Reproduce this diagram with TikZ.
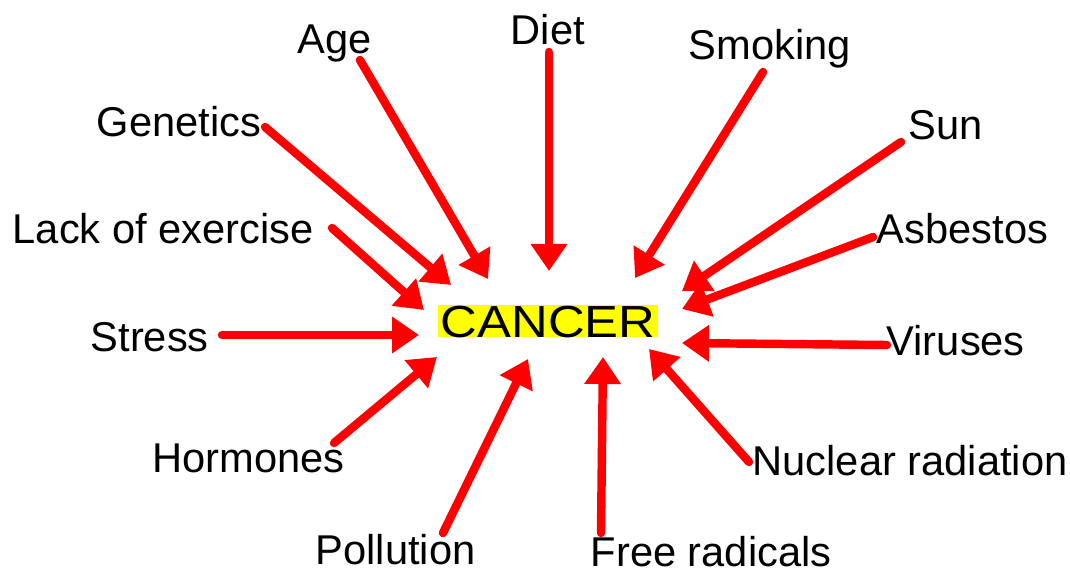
\documentclass[tikz,border=0pt]{standalone}
\usepackage{fontspec}
\setmainfont{Liberation Sans}
\newfontfamily\cancerfont[FakeStretch=1.13]{Liberation Sans}
\usetikzlibrary{positioning,arrows.meta}
\definecolor{causered}{RGB}{255,0,0}
\definecolor{markyellow}{RGB}{255,255,0}

\tikzset{
  factor/.style={anchor=base west,inner sep=0pt,font=\fontsize{11.85}{14}\selectfont},
  cause/.style={draw=causered,line width=2.4pt,line cap=round,
                -{Triangle[length=0.27cm,width=0.35cm]}},
}

\begin{document}
\begin{tikzpicture}
    \useasboundingbox (0,0) rectangle (10.70,5.71);
    % centre
    \node[fill=markyellow,anchor=base west,inner xsep=0.03cm,inner ysep=0pt,
          text height=9.2pt,text depth=0pt,
          font=\cancerfont\fontsize{12.8}{14}\selectfont] (cancer) at (4.37,2.34) {CANCER};
    % causes
    \foreach \n/\x/\y/\t in {age/2.97/5.18/Age,diet/5.10/5.26/Diet,
                             smoking/6.88/5.11/Smoking,genetics/0.96/4.34/Genetics,
                             sun/9.08/4.31/Sun,lack/0.12/3.28/Lack of exercise,
                             asbestos/8.76/3.28/Asbestos,stress/0.90/2.19/Stress,
                             viruses/8.86/2.16/Viruses,hormones/1.52/0.98/Hormones,
                             nuclear/7.52/0.96/Nuclear radiation,
                             pollution/3.15/0.07/Pollution,radicals/5.90/0.05/Free radicals}{
        \node[factor] (\n) at (\x,\y) {\t};
    }
    % arrows into the centre
    \foreach \n/\a/\b/\c/\d in {age/3.60/5.11/4.88/2.92,genetics/2.65/4.44/4.51/2.86,
                                lack/3.32/3.43/4.24/2.61,diet/5.49/5.19/5.49/3.00,
                                smoking/7.63/4.99/6.35/2.93,sun/9.01/4.29/6.82/2.80,
                                asbestos/8.73/3.34/6.82/2.62,stress/2.22/2.36/4.19/2.36,
                                viruses/8.87/2.26/6.82/2.28,hormones/3.34/1.28/4.37/2.14,
                                pollution/4.43/0.38/5.28/2.12,radicals/6.01/0.38/6.03/2.14,
                                nuclear/7.49/1.09/6.49/2.22}{
        \coordinate (\n-s) at (\a,\b);
        \coordinate (\n-e) at (\c,\d);
        \draw[cause] (\n-s) -- (\n-e);
    }
\end{tikzpicture}
\end{document}
